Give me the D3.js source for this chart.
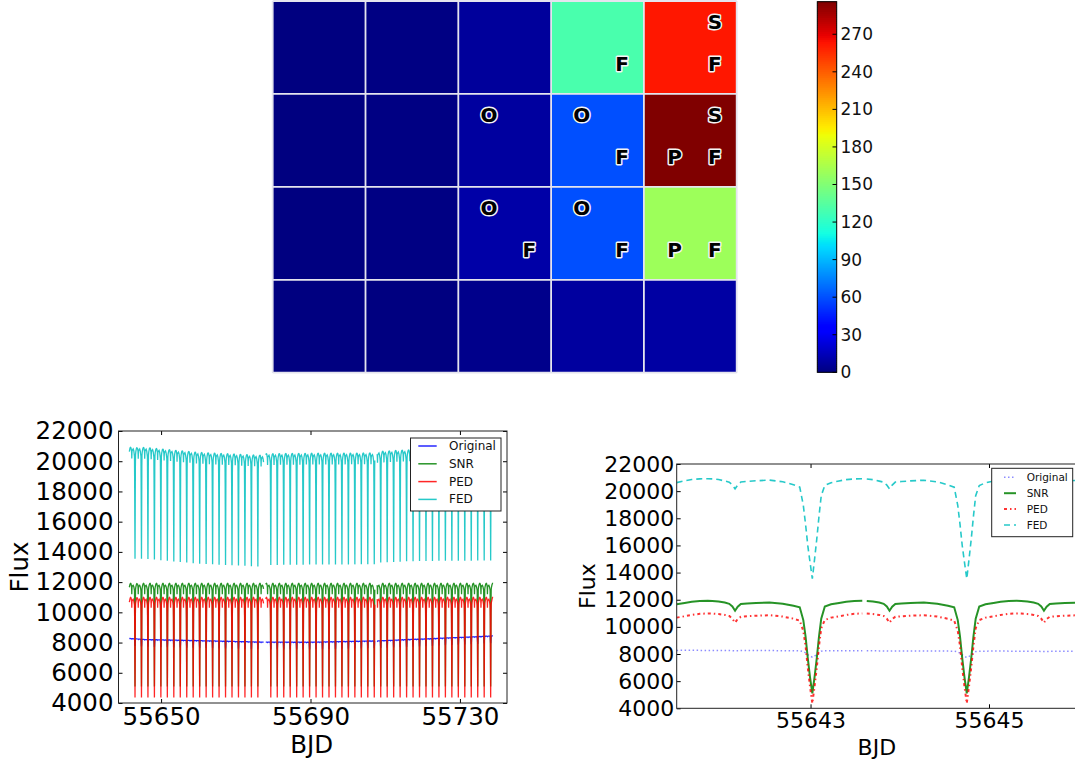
<!DOCTYPE html>
<html>
<head>
<meta charset="utf-8">
<title>Pixel map and light curves</title>
<script src="https://cdn.jsdelivr.net/npm/d3@7/dist/d3.min.js"></script>
<style>
body{margin:0;background:white}
svg text{font-family:"DejaVu Sans",sans-serif}
</style>
</head>
<body>
<svg id="fig" width="1075" height="764"></svg>
<script>
//======================DATA========================================
//---pixel map, rows top to bottom, columns left to right---
var mapValues = [
  [0, 1, 7, 130, 262],
  [0, 1, 8, 60, 296],
  [0, 1, 10, 60, 160],
  [0, 0, 3, 8, 9]
]
var mapLetters = [
  ["", "", "", "F", "SF"],
  ["", "", "O", "OF", "SPF"],
  ["", "", "OF", "OF", "PF"],
  ["", "", "", "", ""]
]
var colorbarTicks = [0, 30, 60, 90, 120, 150, 180, 210, 240, 270]
var colorMax = 296

//---one orbit of the light curve, days after primary minimum---
var cycleDays =     [0, 0.025, 0.05, 0.075, 0.10, 0.14, 0.21, 0.30, 0.38, 0.47, 0.56, 0.61, 0.68, 0.75, 0.80, 0.835, 0.865, 0.895, 0.93, 1.00, 1.10, 1.25, 1.40, 1.52, 1.59, 1.63, 1.655, 1.68, 1.705]
var cycleOriginal = [7760, 7840, 7950, 8080, 8200, 8230, 8235, 8240, 8240, 8240, 8240, 8240, 8240, 8235, 8230, 8225, 8215, 8225, 8230, 8232, 8235, 8236, 8234, 8230, 8225, 8180, 8080, 7950, 7840]
var cycleSNR =      [5100, 6300, 7700, 9300, 10600, 11500, 11660, 11760, 11850, 11900, 11920, 11910, 11870, 11790, 11700, 11500, 11190, 11480, 11690, 11720, 11760, 11790, 11700, 11560, 11440, 10500, 9300, 7700, 6300]
var cyclePED =      [4370, 5600, 7000, 8600, 9900, 10500, 10680, 10780, 10880, 10960, 10990, 10980, 10940, 10880, 10800, 10600, 10310, 10580, 10740, 10780, 10820, 10860, 10760, 10600, 10460, 9700, 8600, 7000, 5600]
var cycleFED =      [13580, 15000, 16500, 18200, 19700, 20450, 20650, 20780, 20880, 20930, 20940, 20930, 20880, 20770, 20690, 20480, 20200, 20480, 20700, 20740, 20790, 20840, 20720, 20500, 20330, 18980, 17600, 16030, 14800]
var primaryMin = 55643.02
var period = 1.731
var lcStart = 55641.45
var lcEnd = 55738.9

//---slow drift of the out-of-eclipse level---
var driftDays =     [55641, 55646, 55660, 55677.4, 55678, 55690, 55707.2, 55707.8, 55716, 55721, 55739]
var driftOriginal = [40, -40, -110, -210, -210, -215, -130, -130, -40, 5, 200]
var driftFED =      [-20, -40, -360, -560, -450, -420, -400, -300, -200, -180, -150]

//---holes in the time series---
var gapStart = [55643.59, 55677.45, 55707.25]
var gapEnd =   [55643.62, 55677.95, 55707.75]

var seriesNames = ["Original", "SNR", "PED", "FED"]
var fluxTicks = [4000, 6000, 8000, 10000, 12000, 14000, 16000, 18000, 20000, 22000]
var bjdTicksLong = [55650, 55690, 55730]
var bjdTicksZoom = [55643, 55645]
//==================END DATA======================================

var svg = d3.select("#fig")

//---jet colormap, matplotlib break points---
var jetR = d3.scaleLinear().domain([0, 0.35, 0.66, 0.89, 1]).range([0, 0, 1, 1, 0.5]).clamp(true)
var jetG = d3.scaleLinear().domain([0, 0.125, 0.375, 0.64, 0.91, 1]).range([0, 0, 1, 1, 0, 0]).clamp(true)
var jetB = d3.scaleLinear().domain([0, 0.11, 0.34, 0.65, 1]).range([0.5, 1, 1, 0, 0]).clamp(true)
var norm = d3.scaleLinear().domain([0, colorMax]).clamp(true)
function jet(v)
{
  var f = norm(v)
  return d3.rgb(jetR(f) * 255, jetG(f) * 255, jetB(f) * 255).toString()
}

//---pixel map---
var hx = d3.scaleBand().domain(d3.range(5)).range([272.7, 736.7])
var hy = d3.scaleBand().domain(d3.range(4)).range([1, 372.7])
var map = svg.append("g")
mapValues.forEach(function(row, r) {
  row.forEach(function(v, c) {
    map.append("rect")
      .attr("x", hx(c)).attr("y", hy(r))
      .attr("width", hx.bandwidth()).attr("height", hy.bandwidth())
      .attr("fill", jet(v))
  })
})
//---grid lines---
d3.range(6).forEach(function(c) {
  var xx = c < 5 ? hx(c) : hx(4) + hx.bandwidth()
  map.append("line").attr("x1", xx).attr("x2", xx).attr("y1", 1).attr("y2", 372.7)
    .attr("stroke", "#e4e4ee").attr("stroke-width", 1.8)
})
d3.range(5).forEach(function(r) {
  var yy = r < 4 ? hy(r) : hy(3) + hy.bandwidth()
  map.append("line").attr("x1", 272.7).attr("x2", 736.7).attr("y1", yy).attr("y2", yy)
    .attr("stroke", "#e4e4ee").attr("stroke-width", 1.8)
})
//---letters: O top-left, S top-right, P bottom-left, F bottom-right---
var spot = { O: [0.33, 0.23], S: [0.765, 0.23], P: [0.33, 0.68], F: [0.765, 0.68] }
mapLetters.forEach(function(row, r) {
  row.forEach(function(s, c) {
    s.split("").forEach(function(ch) {
      map.append("text")
        .attr("x", hx(c) + spot[ch][0] * hx.bandwidth())
        .attr("y", hy(r) + spot[ch][1] * hy.bandwidth())
        .attr("text-anchor", "middle")
        .attr("dominant-baseline", "central")
        .attr("font-size", "20px")
        .attr("font-weight", "bold")
        .attr("fill", "black")
        .attr("stroke", "#f4f4f4")
        .attr("stroke-width", 3)
        .attr("stroke-linejoin", "round")
        .attr("paint-order", "stroke")
        .text(ch)
    })
  })
})

//---colorbar---
var cbY = d3.scaleLinear().domain([0, colorMax]).range([372.3, 1.7])
var cb = svg.append("g")
var cbStep = colorMax / 185
d3.range(0, colorMax, cbStep).forEach(function(v) {
  cb.append("rect")
    .attr("x", 817.3).attr("width", 19.4)
    .attr("y", cbY(v + cbStep) - 0.3)
    .attr("height", cbY(v) - cbY(v + cbStep) + 0.6)
    .attr("fill", jet(v + cbStep / 2))
})
cb.append("rect").attr("x", 817.3).attr("y", 1.7).attr("width", 19.4).attr("height", 370.6)
  .attr("fill", "none").attr("stroke", "black").attr("stroke-width", 1)
colorbarTicks.forEach(function(t) {
  cb.append("line").attr("x1", 836.7).attr("x2", 832.5).attr("y1", cbY(t)).attr("y2", cbY(t))
    .attr("stroke", "black").attr("stroke-width", 1)
  cb.append("text").attr("x", 840.5).attr("y", cbY(t)).attr("dominant-baseline", "central")
    .attr("font-size", "17px").attr("fill", "#111").text(t)
})

//---light curves built from the orbit template---
var driftO = d3.scaleLinear().domain(driftDays).range(driftOriginal).clamp(true)
var driftF = d3.scaleLinear().domain(driftDays).range(driftFED).clamp(true)
function noDrift() { return 0 }

function buildCurve(template, drift)
{
  var pts = []
  for (var n = -2; n < 60; n++) {
    var tMin = primaryMin + n * period
    for (var i = 0; i < cycleDays.length; i++) {
      var t = tMin + cycleDays[i]
      if (t < lcStart || t > lcEnd) continue
      var hole = false
      for (var k = 0; k < gapStart.length; k++) if (t >= gapStart[k] && t <= gapEnd[k]) hole = true
      if (!hole) pts.push({ t: t, v: template[i] + drift(t) })
    }
  }
  for (var k = 0; k < gapStart.length; k++) pts.push({ t: (gapStart[k] + gapEnd[k]) / 2, v: NaN })
  pts.sort(function(a, b) { return a.t - b.t })
  return pts
}
var curves = [
  buildCurve(cycleOriginal, driftO),
  buildCurve(cycleSNR, noDrift),
  buildCurve(cyclePED, noDrift),
  buildCurve(cycleFED, driftF)
]

function drawPanel(p)
{
  var x = d3.scaleLinear().domain(p.xDomain).range([p.left, p.right])
  var y = d3.scaleLinear().domain([4000, 22000]).range([p.bottom, p.top])
  var g = svg.append("g")

  g.append("clipPath").attr("id", "clip" + p.name).append("rect")
    .attr("x", p.left).attr("y", p.top).attr("width", p.right - p.left).attr("height", p.bottom - p.top)

  var line = d3.line()
    .defined(function(d) { return !isNaN(d.v) })
    .x(function(d) { return x(d.t) })
    .y(function(d) { return y(d.v) })

  curves.forEach(function(c, i) {
    var st = p.styles[i]
    g.append("path").datum(c)
      .attr("clip-path", "url(#clip" + p.name + ")")
      .attr("fill", "none")
      .attr("stroke", st.color)
      .attr("stroke-width", st.width)
      .attr("stroke-opacity", st.op)
      .attr("stroke-dasharray", st.dash)
      .attr("d", line)
  })

  //---axes, ticks pointing in on all four sides---
  function tidy(a) { a.select(".domain").remove(); a.attr("font-size", p.font + "px").attr("font-family", "DejaVu Sans") }
  g.append("g").attr("transform", "translate(" + p.left + ",0)")
    .call(d3.axisLeft(y).tickValues(fluxTicks).tickSize(-4).tickPadding(p.yPad).tickFormat(d3.format("d"))).call(tidy)
  g.append("g").attr("transform", "translate(" + p.right + ",0)")
    .call(d3.axisRight(y).tickValues(fluxTicks).tickSize(-4).tickFormat("")).call(tidy)
  g.append("g").attr("transform", "translate(0," + p.bottom + ")")
    .call(d3.axisBottom(x).tickValues(p.xTicks).tickSize(-4).tickPadding(p.xPad).tickFormat(d3.format("d"))).call(tidy)
  g.append("g").attr("transform", "translate(0," + p.top + ")")
    .call(d3.axisTop(x).tickValues(p.xTicks).tickSize(-4).tickFormat("")).call(tidy)

  g.append("rect").attr("x", p.left).attr("y", p.top)
    .attr("width", p.right - p.left).attr("height", p.bottom - p.top)
    .attr("fill", "none").attr("stroke", "#222").attr("stroke-width", 1)

  g.append("text").attr("x", (p.left + Math.min(p.right, 1075)) / 2 + p.bjdShift).attr("y", p.bjdY)
    .attr("text-anchor", "middle").attr("font-size", p.font + "px").text("BJD")
  g.append("text").attr("transform", "translate(" + p.fluxX + "," + (p.top + p.bottom) / 2 + ")rotate(-90)")
    .attr("text-anchor", "middle").attr("dominant-baseline", "central").attr("font-size", p.font + "px").text("Flux")

  //---legend---
  var L = p.legend
  var lg = g.append("g")
  lg.append("rect").attr("x", L.x).attr("y", L.y).attr("width", L.w).attr("height", L.h)
    .attr("fill", "white").attr("stroke", "#222").attr("stroke-width", 1)
  seriesNames.forEach(function(name, i) {
    var st = p.styles[i]
    var yy = L.row0 + i * L.step
    lg.append("line").attr("x1", L.l0).attr("x2", L.l1).attr("y1", yy).attr("y2", yy)
      .attr("stroke", st.color).attr("stroke-width", st.legendWidth || st.width).attr("stroke-opacity", st.op)
      .attr("stroke-dasharray", st.dash)
    lg.append("text").attr("x", L.tx).attr("y", yy).attr("dominant-baseline", "central")
      .attr("font-size", L.font + "px").attr("fill", "#111").text(name)
  })
}

drawPanel({
  name: "Long", xDomain: [55638.6, 55742.6], xTicks: bjdTicksLong,
  left: 118.5, right: 507, top: 431, bottom: 703,
  font: 24.5, yPad: 5, xPad: 4.6, bjdY: 753, bjdShift: -1, fluxX: 19,
  styles: [
    { color: "#0000ff", width: 1.3, op: 0.85, dash: null, legendWidth: 1.5 },
    { color: "#008000", width: 1.3, op: 0.85, dash: null, legendWidth: 1.5 },
    { color: "#ff0000", width: 1.3, op: 0.85, dash: null, legendWidth: 1.5 },
    { color: "#00bfbf", width: 1.3, op: 0.85, dash: null, legendWidth: 1.5 }
  ],
  legend: { x: 410.5, y: 438, w: 90.5, h: 73, row0: 446, step: 17.8, l0: 418.3, l1: 436.7, tx: 449, font: 12 }
})

drawPanel({
  name: "Zoom", xDomain: [55641.5, 55646.02], xTicks: bjdTicksZoom,
  left: 676.7, right: 1080, top: 464, bottom: 708.3,
  font: 22, yPad: 2.5, xPad: 4.1, bjdY: 755, bjdShift: 1, fluxX: 587,
  styles: [
    { color: "#0000ff", width: 1.5, op: 0.45, dash: "1.5,2.5" },
    { color: "#008000", width: 2, op: 0.85, dash: null },
    { color: "#ff0000", width: 2, op: 0.8, dash: "3,3,1.5,3" },
    { color: "#00bfbf", width: 1.6, op: 0.85, dash: "6,4" }
  ],
  legend: { x: 991.7, y: 468.3, w: 81, h: 68.4, row0: 477.3, step: 15.9, l0: 1004, l1: 1016, tx: 1026.7, font: 10.5 }
})
</script>
</body>
</html>
